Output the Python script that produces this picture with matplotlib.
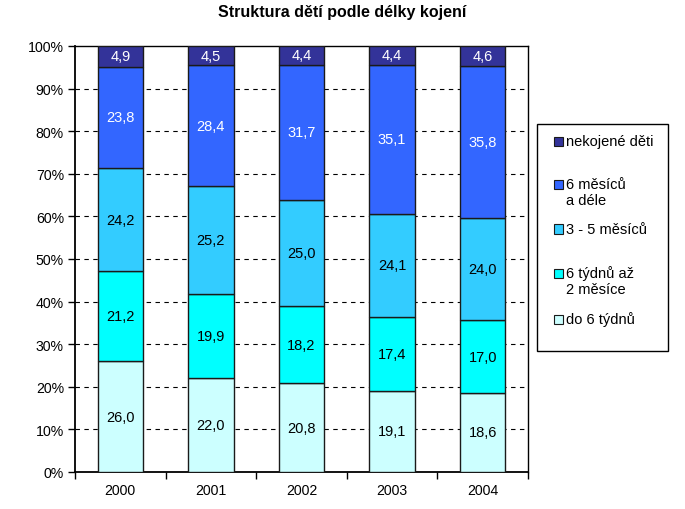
import matplotlib
matplotlib.use("Agg")
import matplotlib.pyplot as plt
import matplotlib.patches as mpatches
import numpy as np

plt.rcParams['font.family'] = ['Liberation Sans', 'DejaVu Sans']

years = ["2000", "2001", "2002", "2003", "2004"]
series_names = ["do 6 týdnů", "6 týdnů až\n2 měsíce", "3 - 5 měsíců", "6 měsíců\na déle", "nekojené děti"]
do6 = [26.0, 22.0, 20.8, 19.1, 18.6]
t6_2m = [21.2, 19.9, 18.2, 17.4, 17.0]
m3_5 = [24.2, 25.2, 25.0, 24.1, 24.0]
m6plus = [23.8, 28.4, 31.7, 35.1, 35.8]
nekoj = [4.9, 4.5, 4.4, 4.4, 4.6]
yticks = [0, 10, 20, 30, 40, 50, 60, 70, 80, 90, 100]

colors = ["#CCFFFF", "#00FFFF", "#33CCFF", "#3366FF", "#333399"]
text_colors = ["black", "black", "black", "white", "white"]

data = np.array([do6, t6_2m, m3_5, m6plus, nekoj])
pct = data / data.sum(axis=0) * 100

fig = plt.figure(figsize=(6.85, 5.10), dpi=100)
ax = fig.add_axes([75/685, 37/510, 453/685, 426/510])

x = np.arange(len(years))
bottom = np.zeros(len(years))
for i in range(len(series_names)):
    bars = ax.bar(x, pct[i], bottom=bottom, width=0.5, color=colors[i],
                  edgecolor="#1a1a1a", linewidth=1.0, zorder=3)
    for j, b in enumerate(bars):
        ax.text(b.get_x() + b.get_width()/2, bottom[j] + pct[i][j]/2,
                f"{data[i][j]:.1f}".replace(".", ","), ha="center", va="center",
                fontsize=10.5, color=text_colors[i], zorder=4)
    bottom += pct[i]

ax.set_xlim(-0.5, len(years) - 0.5)
ax.set_ylim(0, 100)
ax.set_yticks(yticks)
ax.set_yticklabels([f"{v}%" for v in yticks], fontsize=10.2)
ax.set_xticks(x)
ax.set_xticklabels(years, fontsize=10.2)
ax.set_xticks(np.arange(-0.5, len(years)), minor=True)
ax.tick_params(axis="x", which="major", length=0, pad=8)
ax.tick_params(axis="x", which="minor", length=5, width=1, direction="out")
ax.tick_params(axis="y", length=5, width=1, direction="out", pad=3)
for y in yticks[1:-1]:
    ax.axhline(y, color="black", linestyle=(0, (4, 4)), linewidth=0.8, zorder=1)
for s in ax.spines.values():
    s.set_linewidth(1.0)
ax.spines['left'].set_linewidth(1.3)
ax.spines['bottom'].set_linewidth(1.3)

fig.text(0.5, 1 - 13/510, "Struktura dětí podle délky kojení", ha="center", va="center",
         fontsize=11.5, fontweight="bold")

# legend box
def fy(p):
    return 1 - p/510
def fx(p):
    return p/685

fig.patches.append(mpatches.Rectangle((fx(537), fy(352)), fx(668) - fx(537), fy(125) - fy(352),
                                      transform=fig.transFigure, facecolor="white",
                                      edgecolor="black", linewidth=1.0))
leg_y = [320, 274, 230, 185, 142]
for i in range(len(series_names)):
    yy = leg_y[i]
    fig.patches.append(mpatches.Rectangle((fx(554), fy(yy + 4.5)), fx(9), 9/510,
                                          transform=fig.transFigure, facecolor=colors[i],
                                          edgecolor="#1a1a1a", linewidth=0.8))
    lines = series_names[i].split("\n")
    for k, ln in enumerate(lines):
        fig.text(fx(566), fy(yy + 16*k), ln, ha="left", va="center", fontsize=10.5)

fig.savefig("out.png", dpi=100)
